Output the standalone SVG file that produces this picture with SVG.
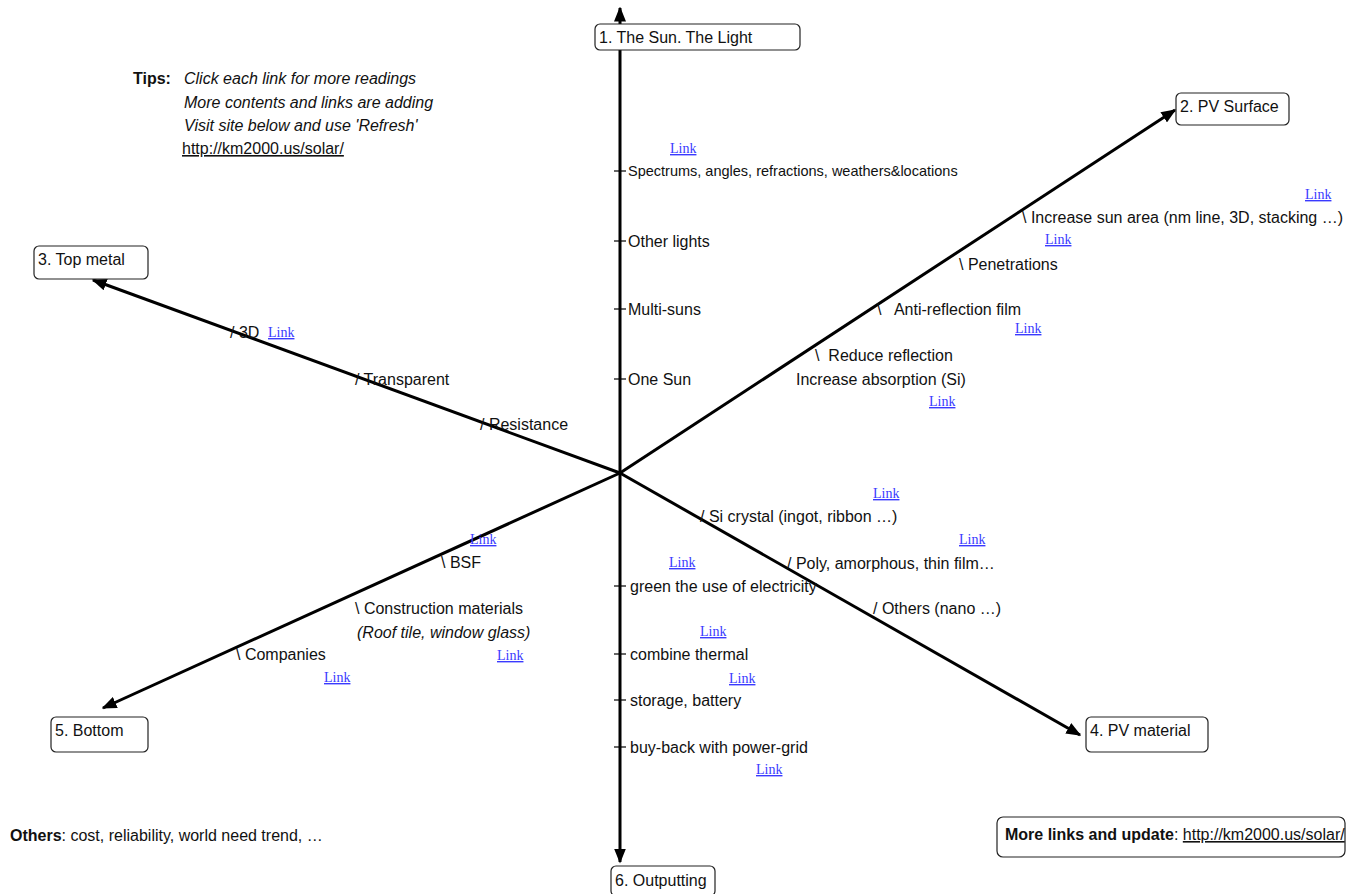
<svg xmlns="http://www.w3.org/2000/svg" width="1355" height="894" viewBox="0 0 1355 894">
<style>
text{font-family:"Liberation Sans",Arial,sans-serif;font-size:16px;fill:#111}
.box{fill:#fff;stroke:#222;stroke-width:1.2}
.ax{stroke:#000;stroke-width:3;fill:none;marker-end:url(#ah)}
.lk{font-family:"Liberation Serif","Times New Roman",serif;font-size:14px;fill:#3a3aff;text-decoration:underline}
.sm{font-size:14.5px}
.it{font-style:italic}
.b{font-weight:bold}
.tk{stroke:#000;stroke-width:1.2}
</style>
<defs>
<marker id="ah" markerWidth="5" markerHeight="4" refX="4.5" refY="2" orient="auto" markerUnits="strokeWidth">
<path d="M0,0 L5,2 L0,4 Z" fill="#000"/>
</marker>
</defs>
<g id="connectors">
<line class="ax" x1="620" y1="473" x2="620" y2="8"/>
<line class="ax" x1="620" y1="473" x2="620" y2="862"/>
<line class="ax" x1="620" y1="473" x2="1175" y2="110"/>
<line class="ax" x1="620" y1="473" x2="93" y2="280"/>
<line class="ax" x1="620" y1="473" x2="1080" y2="735"/>
<line class="ax" x1="620" y1="473" x2="103" y2="708"/>
<g id="ticks">
<line class="tk" x1="614" y1="171" x2="626" y2="171"/>
<line class="tk" x1="614" y1="241" x2="626" y2="241"/>
<line class="tk" x1="614" y1="309" x2="626" y2="309"/>
<line class="tk" x1="614" y1="379" x2="626" y2="379"/>
<line class="tk" x1="614" y1="586" x2="626" y2="586"/>
<line class="tk" x1="614" y1="654" x2="626" y2="654"/>
<line class="tk" x1="614" y1="700" x2="626" y2="700"/>
<line class="tk" x1="614" y1="747" x2="626" y2="747"/>
</g>
</g>
<g id="n1"><rect class="box" x="595" y="24" width="205" height="26" rx="5"/><text x="599" y="43">1. The Sun. The Light</text></g>
<g id="n2"><rect class="box" x="1176" y="93" width="113" height="32" rx="5"/><text x="1180" y="112">2. PV Surface</text></g>
<g id="n3"><rect class="box" x="34" y="246" width="114" height="33" rx="5"/><text x="38" y="265">3. Top metal</text></g>
<g id="n4"><rect class="box" x="1086" y="717" width="122" height="35" rx="5"/><text x="1090" y="736">4. PV material</text></g>
<g id="n5"><rect class="box" x="51" y="717" width="97" height="35" rx="5"/><text x="55" y="736">5. Bottom</text></g>
<g id="n6"><rect class="box" x="611" y="866" width="104" height="30" rx="5"/><text x="615" y="886">6. Outputting</text></g>
<g id="tips">
<text class="b" x="133" y="84">Tips:</text>
<text class="it" x="184" y="84">Click each link for more readings</text>
<text class="it" x="184" y="108">More contents and links are adding</text>
<text class="it" x="184" y="131">Visit site below and use 'Refresh'</text>
<text x="182" y="154" text-decoration="underline">http://km2000.us/solar/</text>
</g>
<g id="sun-labels">
<text class="lk" x="670" y="153">Link</text>
<text class="sm" x="628" y="176">Spectrums, angles, refractions, weathers&amp;locations</text>
<text x="628" y="247">Other lights</text>
<text x="628" y="315">Multi-suns</text>
<text x="628" y="385">One Sun</text>
</g>
<g id="surface-labels">
<text class="lk" x="1305" y="199">Link</text>
<text x="1022" y="223">\ Increase sun area (nm line, 3D, stacking …)</text>
<text class="lk" x="1045" y="244">Link</text>
<text x="959" y="270">\ Penetrations</text>
<text x="877" y="315" xml:space="preserve">\   Anti-reflection film</text>
<text class="lk" x="1015" y="333">Link</text>
<text x="815" y="361" xml:space="preserve">\  Reduce reflection</text>
<text x="796" y="385">Increase absorption (Si)</text>
<text class="lk" x="929" y="406">Link</text>
</g>
<g id="metal-labels">
<text x="230" y="338">/ 3D</text>
<text class="lk" x="268" y="337">Link</text>
<text x="355" y="385">/ Transparent</text>
<text x="480" y="430">/ Resistance</text>
</g>
<g id="material-labels">
<text class="lk" x="873" y="498">Link</text>
<text x="700" y="522">/ Si crystal (ingot, ribbon …)</text>
<text class="lk" x="959" y="544">Link</text>
<text x="787" y="569">/ Poly, amorphous, thin film…</text>
<text x="873" y="614">/ Others (nano …)</text>
</g>
<g id="bottom-labels">
<text class="lk" x="470" y="544">Link</text>
<text x="441" y="568">\ BSF</text>
<text x="355" y="614">\ Construction materials</text>
<text class="it" x="357" y="638">(Roof tile, window glass)</text>
<text class="lk" x="497" y="660">Link</text>
<text x="236" y="660">\ Companies</text>
<text class="lk" x="324" y="682">Link</text>
</g>
<g id="output-labels">
<text class="lk" x="669" y="567">Link</text>
<text x="630" y="592">green the use of electricity</text>
<text class="lk" x="700" y="636">Link</text>
<text x="630" y="660">combine thermal</text>
<text class="lk" x="729" y="683">Link</text>
<text x="630" y="706">storage, battery</text>
<text x="630" y="753">buy-back with power-grid</text>
<text class="lk" x="756" y="774">Link</text>
</g>
<g id="others"><text x="10" y="841"><tspan class="b">Others</tspan>: cost, reliability, world need trend, …</text></g>
<g id="more"><rect class="box" x="997" y="817" width="348" height="40" rx="6"/><text x="1005" y="840"><tspan class="b">More links and update</tspan>: <tspan text-decoration="underline">http://km2000.us/solar/</tspan></text></g>
</svg>
